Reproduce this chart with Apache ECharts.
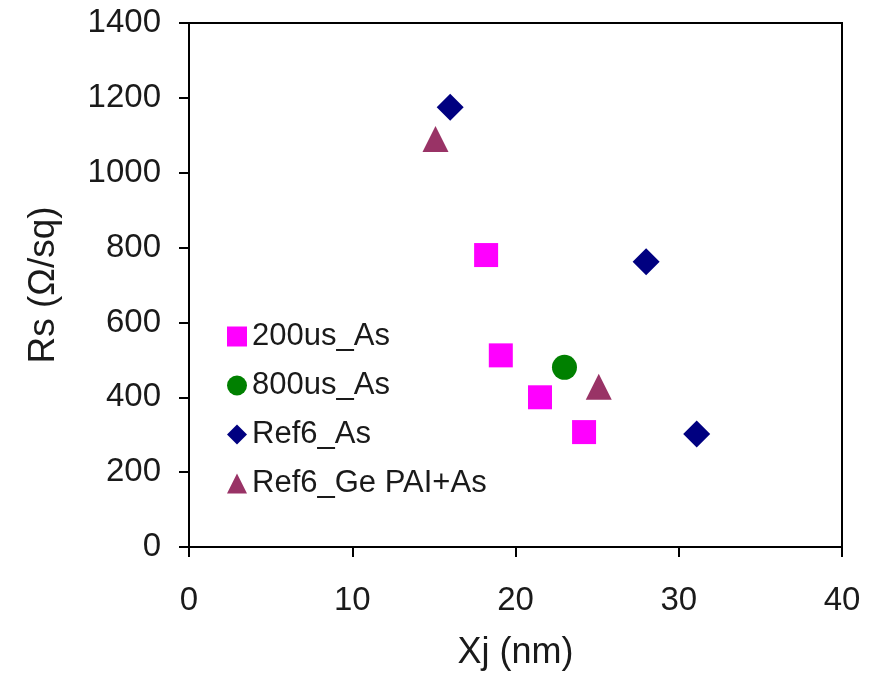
<!DOCTYPE html>
<html>
<head>
<meta charset="utf-8">
<script src="https://cdn.jsdelivr.net/npm/echarts@6/dist/echarts.min.js"></script>
<style>html,body{margin:0;padding:0;background:#fff}#c{width:876px;height:678px}</style>
</head>
<body>
<div id="c"></div>
<script>
const seriesNames = ['200us_As', '800us_As', 'Ref6_As', 'Ref6_Ge PAI+As'];
const s200us = [[18.2, 780], [19.1, 512], [21.5, 400], [24.2, 307]];
const s800us = [[23.0, 480]];
const ref6As = [[16.0, 1175], [28.0, 762], [31.1, 302]];
const ref6Ge = [[15.1, 1090], [25.1, 428]];
const xTicks = [0, 10, 20, 30, 40];
const yTicks = [0, 200, 400, 600, 800, 1000, 1200, 1400];

const font = 'Liberation Sans, Arial, sans-serif';
const txt = '#1a1a1a';
const chart = echarts.init(document.getElementById('c'));
chart.setOption({
  animation: false,
  grid: {left: 189, right: 34, top: 23, bottom: 131, show: true, borderColor: '#000', borderWidth: 2},
  legend: {
    orient: 'vertical', left: 227, top: 321, padding: 0, itemGap: 18,
    itemWidth: 20, itemHeight: 20, itemStyle: {opacity: 1}, data: seriesNames,
    textStyle: {fontFamily: font, fontSize: 31, color: txt, lineHeight: 31}
  },
  xAxis: {
    type: 'value', min: xTicks[0], max: xTicks[xTicks.length - 1], interval: 10,
    splitLine: {show: false},
    axisLine: {lineStyle: {color: '#000', width: 2}},
    axisTick: {length: 10, lineStyle: {color: '#000', width: 2}},
    axisLabel: {margin: 37, fontFamily: font, fontSize: 33, color: txt, formatter: v => String(v)},
    name: 'Xj (nm)', nameLocation: 'middle', nameGap: 88,
    nameTextStyle: {fontFamily: font, fontSize: 36, color: txt}
  },
  yAxis: {
    type: 'value', min: yTicks[0], max: yTicks[yTicks.length - 1], interval: 200,
    splitLine: {show: false},
    axisLine: {lineStyle: {color: '#000', width: 2}},
    axisTick: {length: 10, lineStyle: {color: '#000', width: 2}},
    axisLabel: {margin: 28, fontFamily: font, fontSize: 33, color: txt, formatter: v => String(v)},
    name: 'Rs (Ω/sq)', nameLocation: 'middle', nameGap: 127,
    nameTextStyle: {fontFamily: font, fontSize: 37, color: txt}
  },
  series: [
    {name: seriesNames[0], type: 'scatter', symbol: 'rect', symbolSize: 24, data: s200us, itemStyle: {color: '#ff00ff', opacity: 1}},
    {name: seriesNames[1], type: 'scatter', symbol: 'circle', symbolSize: 25, data: s800us, itemStyle: {color: '#008000', opacity: 1}},
    {name: seriesNames[2], type: 'scatter', symbol: 'diamond', symbolSize: 27, data: ref6As, itemStyle: {color: '#000080', opacity: 1}},
    {name: seriesNames[3], type: 'scatter', symbol: 'triangle', symbolSize: 26, data: ref6Ge, itemStyle: {color: '#993366', opacity: 1}}
  ]
});
</script>
</body>
</html>
